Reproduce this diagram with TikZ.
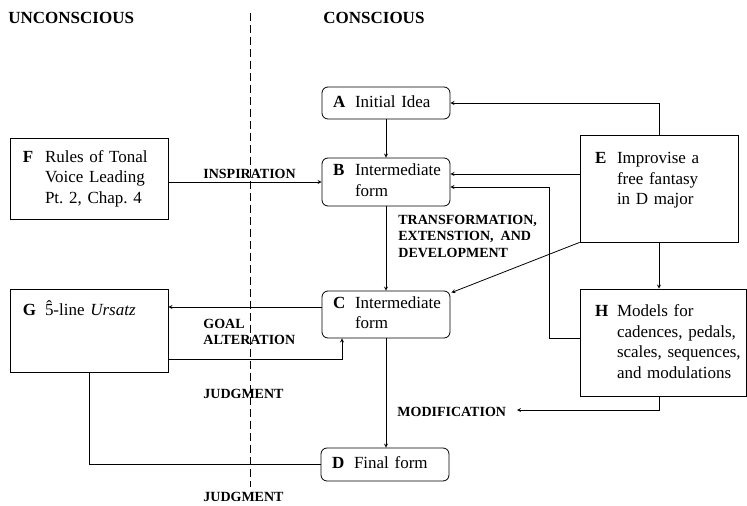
\documentclass[tikz,border=0pt]{standalone}
\usepackage{fontspec}
\setmainfont{Liberation Serif}
\usetikzlibrary{arrows,positioning,calc}
\frenchspacing
\newcommand{\stagetext}[2]{\makebox[22pt][l]{\textbf{#1}}\begin{tabular}[t]{@{}l@{}}#2\end{tabular}}
\newcommand{\toptext}[2]{\parbox[c][#1][t]{\linewidth}{#2}}
\newcommand{\hatfive}{\leavevmode\hbox{\ooalign{5\cr\hidewidth\raisebox{0.2em}{\char"02C6}\hidewidth\cr}}}

\begin{document}
\begin{tikzpicture}[x=1pt, y=-1pt, >=stealth, line width=0.8pt,
                    every node/.style={font=\fontsize{17}{20.5}\selectfont},
                    stage/.style={draw, align=left, inner ysep=0pt},
                    process/.style={stage, rounded corners=6pt, inner xsep=11pt, text width=106pt},
                    cue/.style={font=\fontsize{14}{16.5}\selectfont\bfseries, align=left, inner sep=0pt},
                    heading/.style={font=\fontsize{17}{20}\selectfont\bfseries, inner sep=0pt}]
  \useasboundingbox (0,0) rectangle (747,506);
  % divider between the two sides
  \coordinate (divtop) at (250,13);
  \coordinate (divbot) at (250,487);
  \draw[dash pattern=on 8pt off 4pt, line width=0.7pt] (divtop) -- (divbot);
  \node[heading, anchor=west] (unconscious) at (8,18)  {UNCONSCIOUS};
  \node[heading, anchor=west] (conscious)   at (323,18) {CONSCIOUS};
  % stages of the composition
  \node[process, minimum height=32pt] (A) at (386,103)   {\stagetext{A}{Initial Idea}};
  \node[process, minimum height=48pt] (B) at (386,182)   {\stagetext{B}{Intermediate\\form}};
  \node[process, minimum height=47pt] (C) at (386,314.5) {\stagetext{C}{Intermediate\\form}};
  \node[process, minimum height=33pt] (D) at (385,464.5) {\stagetext{D}{Final form}};
  % sources
  \node[stage, inner xsep=15pt, inner ysep=14.5pt, text width=128pt] (E) at (659,188.5)
       {\toptext{78pt}{\stagetext{E}{Improvise a\\free fantasy\\in D major}}};
  \node[stage, inner xsep=15pt, inner ysep=13.5pt, text width=136pt] (H) at (663,342.5)
       {\toptext{80pt}{\stagetext{H}{Models for\\cadences, pedals,\\scales, sequences,\\and modulations}}};
  \node[stage, inner xsep=13pt, text width=132pt, minimum height=81pt] (F) at (89,178.5)
       {\stagetext{F}{Rules of Tonal\\Voice Leading\\Pt. 2, Chap. 4}};
  \node[stage, inner xsep=13pt, inner ysep=12.5pt, text width=132pt] (G) at (89,330.5)
       {\toptext{58pt}{\stagetext{G}{\hatfive-line \textit{Ursatz}}}};
  % labels on the connectors
  \node[cue, anchor=west] (inspiration) at (203,174) {INSPIRATION};
  \node[cue, anchor=north west] (transformation) at (398,214.5)
       {TRANSFORMATION,\\EXTENSTION,\ \ AND\\DEVELOPMENT};
  \node[cue, anchor=north west] (goal) at (203,318.5) {GOAL\\ALTERATION};
  \node[cue, anchor=west] (judgment) at (203,394) {JUDGMENT};
  \node[cue, anchor=west] (judgmentlow) at (203,497) {JUDGMENT};
  \node[cue, anchor=west] (modification) at (397,412) {MODIFICATION};
  % connectors
  \coordinate (Bin1) at ([yshift=8pt]B.east);
  \coordinate (Bin2) at ([yshift=-5pt]B.east);
  \coordinate (Hout) at ([yshift=4.5pt]H.west);
  \coordinate (loop) at (549,0);
  \coordinate (Cout) at ([yshift=7.5pt]C.west);
  \coordinate (Gout) at ([yshift=-28.5pt]G.east);
  \coordinate (modtip) at (517,410);
  \draw[->] (A) -- (B);
  \draw[->] (B) -- (C);
  \draw[->] (C.south) -- (C.south |- D.north);
  \draw[->] (E.north) |- (A.east);
  \draw[->] (E.west |- Bin1) -- (Bin1);
  \draw[->] (Hout) -- (Hout -| loop) |- (Bin2);
  \draw[->] (E.south west) -- ([xshift=1pt,yshift=-2pt]C.north east);
  \draw[->] (E.south) -- (E.south |- H.north);
  \draw[->] (F.east |- B.west) -- (B.west);
  \draw[->] (Cout) -- (Cout -| G.east);
  \draw[->] (Gout) -| ([xshift=-44pt]C.south);
  \draw (G.south) |- (D.west);
  \draw[->] (H.south -| E.south) |- (modtip);
\end{tikzpicture}
\end{document}
